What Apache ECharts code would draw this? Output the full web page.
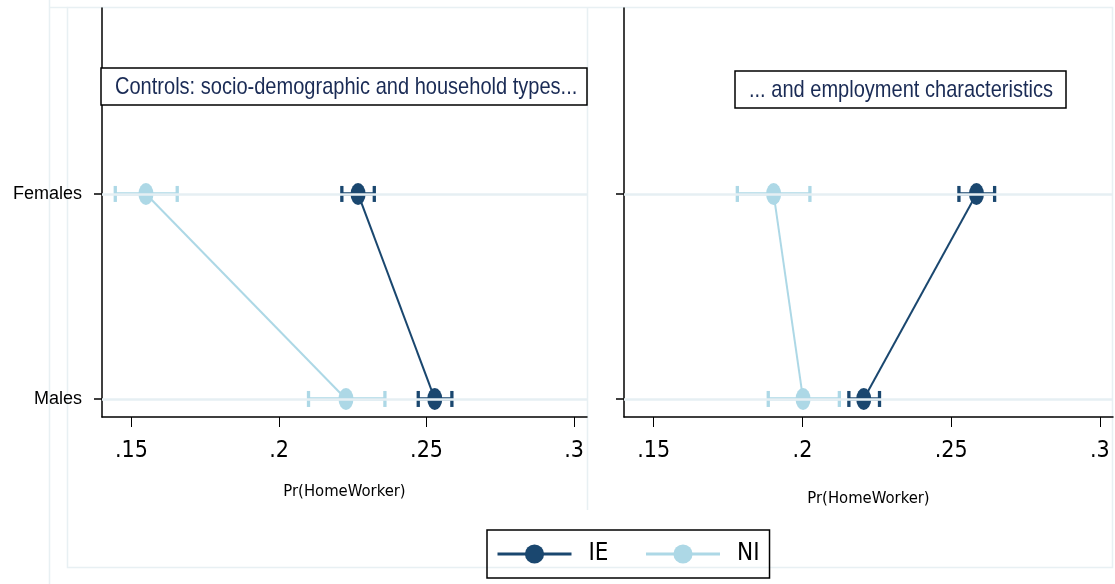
<!DOCTYPE html>
<html><head><meta charset="utf-8">
<script src="https://cdn.jsdelivr.net/npm/echarts@6/dist/echarts.min.js"></script>
<style>html,body{margin:0;padding:0;background:#fff}#c{width:1115px;height:584px}</style>
</head><body><div id="c"></div>
<script>
// ---- data ----
const categories = ['Males', 'Females'];           // y positions 0, 1
const xTicks = [0.15, 0.2, 0.25, 0.3];
const panelTitles = ['Controls: socio-demographic and household types...', '... and employment characteristics'];
// panel 1 : point estimates [Males, Females]
const p1_IE = [0.2528, 0.2268];
const p1_IE_lo = [0.2472, 0.2213];
const p1_IE_hi = [0.2586, 0.2323];
const p1_NI = [0.2227, 0.1549];
const p1_NI_lo = [0.2100, 0.1445];
const p1_NI_hi = [0.2359, 0.1655];
// panel 2
const p2_IE = [0.2206, 0.2585];
const p2_IE_lo = [0.2156, 0.2526];
const p2_IE_hi = [0.2259, 0.2646];
const p2_NI = [0.2002, 0.1903];
const p2_NI_lo = [0.1885, 0.1781];
const p2_NI_hi = [0.2124, 0.2025];

const C_IE = '#1a476f', C_NI = '#add8e6', GRIDC = '#e6eff3';
const COND = "'DejaVu Sans Condensed',sans-serif";
const ARIAL = "'Liberation Sans',Arial,sans-serif";

const panels = [
  {IE: p1_IE, IElo: p1_IE_lo, IEhi: p1_IE_hi, NI: p1_NI, NIlo: p1_NI_lo, NIhi: p1_NI_hi},
  {IE: p2_IE, IElo: p2_IE_lo, IEhi: p2_IE_hi, NI: p2_NI, NIlo: p2_NI_lo, NIhi: p2_NI_hi}
];

const grids = [
  {left: 102, top: 8, width: 485, height: 409},
  {left: 624, top: 8, width: 489, height: 409}
];

function fmt(v){ return String(+v.toFixed(2)).replace(/^0/, ''); }

const xAxes = [], yAxes = [], series = [];
panels.forEach((p, i) => {
  xAxes.push({
    type: 'value', gridIndex: i, min: 0.14, max: 0.3044,
    name: 'Pr(HomeWorker)', nameLocation: 'middle', nameGap: i === 0 ? 66 : 73,
    nameTextStyle: {fontFamily: COND, fontSize: 16.5, color: '#000'},
    axisLine: {show: true, onZero: false, lineStyle: {color: '#000', width: 1.5}},
    axisTick: {show: true, length: 10, customValues: xTicks, lineStyle: {color: '#000', width: 1}},
    axisLabel: {customValues: xTicks, formatter: fmt, fontFamily: COND, fontSize: 23, color: '#000', margin: 23},
    splitLine: {show: false}
  });
  yAxes.push({
    type: 'value', gridIndex: i, min: -0.088, max: 1.907,
    axisLine: {show: true, onZero: false, lineStyle: {color: '#000', width: 1.5}},
    axisTick: {show: true, length: 8, customValues: [0, 1], lineStyle: {color: '#000', width: 1.5}},
    axisLabel: {show: i === 0, customValues: [0, 1], formatter: v => categories[Math.round(v)],
      fontFamily: ARIAL, fontSize: 18, color: '#000', margin: 20},
    splitLine: {show: false}
  });
  // grid lines at category positions
  series.push({
    type: 'line', name: 'grid', xAxisIndex: i, yAxisIndex: i, data: [], silent: true, z: 0,
    markLine: {silent: true, symbol: 'none', label: {show: false},
      lineStyle: {color: GRIDC, width: 2.5, type: 'solid'},
      data: categories.map((c, k) => ({yAxis: k}))}
  });
  [['IE', C_IE, p.IElo, p.IEhi], ['NI', C_NI, p.NIlo, p.NIhi]].forEach(([nm, col, lo, hi]) => {
    series.push({
      type: 'custom', name: nm + ' CI', xAxisIndex: i, yAxisIndex: i, z: 2,
      data: categories.map((c, k) => [lo[k], hi[k], k]),
      encode: {x: [0, 1], y: 2},
      renderItem: (params, api) => {
        const a = api.coord([api.value(0), api.value(2)]);
        const b = api.coord([api.value(1), api.value(2)]);
        const h = 8;
        const st = {stroke: col, lineWidth: 3.3};
        return {type: 'group', children: [
          {type: 'line', shape: {x1: a[0], y1: a[1], x2: b[0], y2: b[1]}, style: st},
          {type: 'line', shape: {x1: a[0], y1: a[1] - h, x2: a[0], y2: a[1] + h}, style: st},
          {type: 'line', shape: {x1: b[0], y1: b[1] - h, x2: b[0], y2: b[1] + h}, style: st}
        ]};
      }
    });
  });
  [['IE', C_IE, p.IE, 2], ['NI', C_NI, p.NI, 2]].forEach(([nm, col, vals, w]) => {
    series.push({
      type: 'line', name: nm, xAxisIndex: i, yAxisIndex: i, z: 3,
      data: [[vals[1], 1], [vals[0], 0]],
      symbol: 'circle', symbolSize: [15, 22], showSymbol: true,
      lineStyle: {color: col, width: w}, itemStyle: {color: col},
      emphasis: {disabled: true}
    });
  });
});

const frame = '#e8f0f3';
const chart = echarts.init(document.getElementById('c'), null, {renderer: 'canvas'});
chart.setOption({
  animation: false,
  backgroundColor: '#fff',
  grid: grids,
  xAxis: xAxes,
  yAxis: yAxes,
  legend: {
    data: ['IE', 'NI'], left: 487, top: 530,
    padding: [12, 10, 12, 9], itemWidth: 74, itemHeight: 24, itemGap: 36,
    borderColor: '#000', borderWidth: 1.5,
    lineStyle: {width: 3},
    textStyle: {fontFamily: COND, fontSize: 24, color: '#000', padding: [0, 0, 0, 12]}
  },
  graphic: [
    {type: 'line', shape: {x1: 49.5, y1: 0, x2: 49.5, y2: 584}, style: {stroke: frame, lineWidth: 1.5}, z: -1},
    {type: 'rect', shape: {x: 67.5, y: 7.5, width: 1045, height: 560}, style: {fill: 'none', stroke: frame, lineWidth: 1.5}, z: -1},
    {type: 'line', shape: {x1: 49.5, y1: 7.5, x2: 67.5, y2: 7.5}, style: {stroke: frame, lineWidth: 1.5}, z: -1},
    {type: 'line', shape: {x1: 587.5, y1: 7.5, x2: 587.5, y2: 510}, style: {stroke: frame, lineWidth: 1.5}, z: -1},
    {type: 'rect', x: 101, y: 68, z: 10, shape: {x: 0, y: 0, width: 486, height: 37}, style: {fill: '#fff', stroke: '#000', lineWidth: 1.5}},
    {type: 'text', x: 115, y: 87, scaleX: 0.835, z: 11, style: {text: panelTitles[0], fill: '#1a2b55', font: "24px " + ARIAL, textVerticalAlign: 'middle'}},
    {type: 'rect', x: 735, y: 71, z: 10, shape: {x: 0, y: 0, width: 331, height: 37}, style: {fill: '#fff', stroke: '#000', lineWidth: 1.5}},
    {type: 'text', x: 901, y: 90, scaleX: 0.835, z: 11, style: {text: panelTitles[1], fill: '#1a2b55', font: "24px " + ARIAL, textAlign: 'center', textVerticalAlign: 'middle'}}
  ],
  series: series
});
</script></body></html>
